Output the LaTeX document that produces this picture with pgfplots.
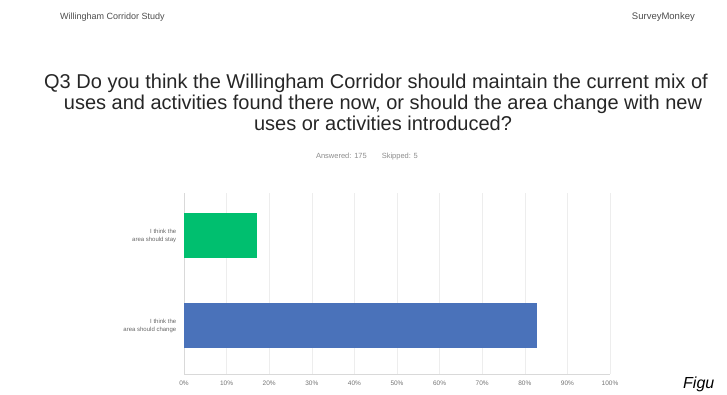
\documentclass[border=0pt]{standalone}
\usepackage{fontspec}
\setmainfont{Liberation Sans}
\usepackage{pgfplots}
\pgfplotsset{compat=1.18}
\definecolor{smgreen}{RGB}{0,191,111}
\definecolor{smblue}{RGB}{74,114,186}
\begin{document}
\begin{tikzpicture}
\useasboundingbox (0pt,0pt) rectangle (727pt,394pt);
\clip (0pt,0pt) rectangle (727pt,394pt);
\node[anchor=west, font=\fontsize{9}{10}\selectfont, text=black!70, inner sep=0] at (60pt,377pt) {Willingham Corridor Study};
\node[anchor=east, font=\fontsize{9.5}{10}\selectfont, text=black!70, inner sep=0] at (695pt,377pt) {SurveyMonkey};
\begin{scope}[every node/.style={anchor=base, font=\fontsize{20}{21}\selectfont, inner sep=0, text=black!85}]
\node at (376pt,305pt) {Q3 Do you think the Willingham Corridor should maintain the current mix of};
\node at (383pt,284pt) {uses and activities found there now, or should the area change with new};
\node at (383pt,263pt) {uses or activities introduced?};
\end{scope}
\node[font=\fontsize{7.5}{8}\selectfont, text=black!45, inner sep=0] at (367pt,237pt) {Answered: 175\qquad Skipped: 5};
\begin{axis}[at={(184pt,20pt)}, anchor=south west, scale only axis,
  width=426pt, height=181pt,
  xbar, bar width=45pt, bar shift=0pt,
  xmin=0, xmax=100, ymin=0.461, ymax=2.472,
  ytick={1,2},
  yticklabels={{I think the\\area should change},{I think the\\area should stay}},
  yticklabel style={align=right, font=\fontsize{6}{8}\selectfont, text=black!60},
  xtick={0,10,...,100},
  xticklabel={\pgfmathprintnumber{\tick}\%},
  /pgf/number format/assume math mode=true,
  xticklabel style={font=\fontsize{6.5}{7}\selectfont, text=black!55, yshift=-3pt},
  xmajorgrids, grid style={black!7},
  axis x line*=bottom, axis y line*=left,
  axis line style={black!15},
  tick style={draw=none},
  clip=false]
\addplot[fill=smblue, draw=none] coordinates {(82.86,1)};
\addplot[fill=smgreen, draw=none] coordinates {(17.14,2)};
\end{axis}
\node[anchor=base west, font=\fontsize{16}{18}\selectfont\itshape, inner sep=0] at (683pt,6pt) {Figu};
\end{tikzpicture}
\end{document}
